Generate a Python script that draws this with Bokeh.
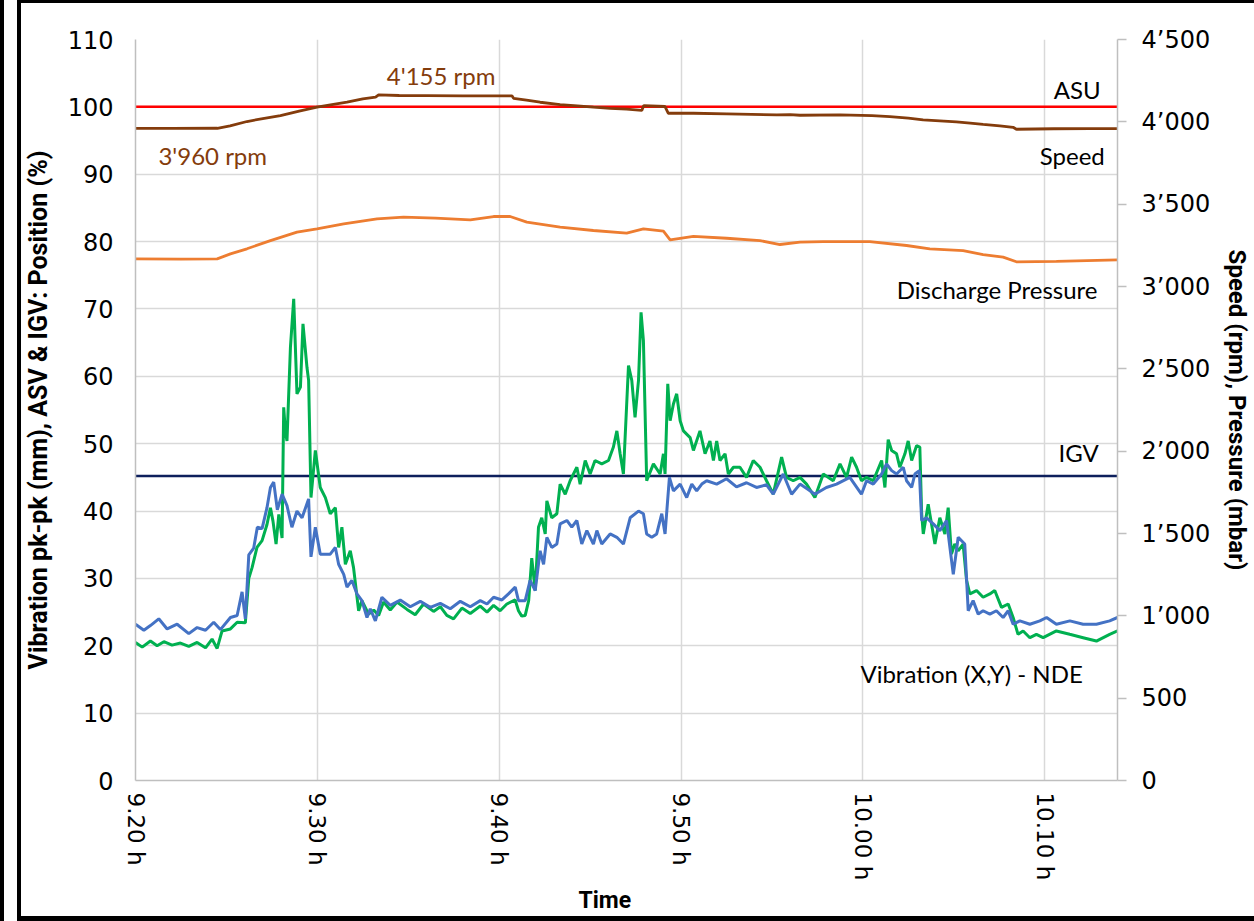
import math
from bokeh.plotting import figure
from bokeh.models import Range1d, LinearAxis, FixedTicker, Label, Title
from bokeh.embed import file_html
from bokeh.resources import INLINE

# ---------------- data ----------------
# time axis: minutes after 9.20 h
x_ticks = [0, 10, 20, 30, 40, 50]
x_tick_labels = ["9.20 h", "9.30 h", "9.40 h", "9.50 h", "10.00 h", "10.10 h"]
left_ticks = [0, 10, 20, 30, 40, 50, 60, 70, 80, 90, 100, 110]
right_ticks = [0, 500, 1000, 1500, 2000, 2500, 3000, 3500, 4000, 4500]
right_tick_labels = ["0", "500", "1\u2019000", "1\u2019500", "2\u2019000", "2\u2019500",
                     "3\u2019000", "3\u2019500", "4\u2019000", "4\u2019500"]

# vibration, blue trace (mm pk-pk): (minute, value)
vib_blue = [(0.0, 23.2), (0.46, 22.3), (0.82, 23.0), (1.28, 24.0), (1.74, 22.5), (2.29, 23.2),
            (2.93, 21.8), (3.39, 22.7), (3.85, 22.3), (4.30, 23.5), (4.67, 22.4), (5.22, 24.2),
            (5.59, 24.5), (5.86, 28.0), (6.04, 24.0), (6.23, 33.5), (6.50, 34.5), (6.70, 37.6),
            (6.96, 37.4), (7.23, 40.5), (7.42, 43.5), (7.60, 44.3), (7.80, 40.2), (8.06, 42.5),
            (8.33, 40.8), (8.60, 37.6), (8.88, 40.0), (9.16, 39.0), (9.52, 41.8), (9.65, 33.2),
            (9.89, 37.6), (10.16, 33.6), (10.71, 33.6), (10.99, 34.6), (11.17, 32.1), (11.45, 30.6),
            (11.63, 28.7), (11.90, 29.7), (12.18, 27.7), (12.45, 26.7), (12.73, 24.2), (12.91, 25.5),
            (13.19, 23.7), (13.55, 27.2), (14.01, 26.0), (14.56, 26.8), (15.11, 25.8), (15.66, 26.6),
            (16.21, 25.7), (16.76, 26.3), (17.31, 25.5), (17.86, 26.6), (18.41, 25.8), (18.96, 26.7),
            (19.33, 26.2), (19.69, 27.2), (20.15, 26.8), (20.51, 27.7), (20.88, 28.7), (21.06, 26.7),
            (21.43, 26.7), (21.70, 29.7), (21.98, 28.2), (22.25, 34.1), (22.44, 32.1), (22.62, 36.1),
            (22.89, 34.6), (23.17, 35.1), (23.35, 38.1), (23.72, 38.6), (23.99, 37.6), (24.27, 38.6),
            (24.54, 35.1), (24.82, 37.1), (25.18, 35.1), (25.37, 37.1), (25.64, 35.1), (26.10, 36.6),
            (26.47, 36.1), (26.83, 35.1), (27.20, 39.0), (27.66, 40.0), (27.93, 39.6), (28.11, 36.6),
            (28.39, 36.1), (28.66, 36.6), (28.94, 39.6), (29.12, 36.6), (29.36, 45.0), (29.58, 43.0),
            (29.95, 44.0), (30.31, 42.0), (30.59, 44.0), (30.86, 43.0), (31.14, 44.0), (31.41, 44.5),
            (31.96, 44.0), (32.50, 44.8), (33.05, 43.6), (33.60, 44.2), (34.15, 43.5), (34.70, 43.9),
            (35.07, 42.5), (35.62, 45.5), (36.08, 42.5), (36.54, 44.0), (36.99, 43.2), (37.36, 42.5),
            (37.99, 43.5), (38.55, 44.0), (39.28, 45.0), (39.92, 42.5), (40.20, 44.5), (40.57, 44.0),
            (41.03, 45.5), (41.30, 47.0), (41.58, 46.0), (41.85, 45.5), (42.22, 46.5), (42.40, 44.5),
            (42.68, 43.5), (42.86, 45.5), (43.10, 46.0), (43.23, 38.6), (43.50, 39.0), (43.87, 38.1),
            (44.23, 37.1), (44.60, 38.6), (44.97, 30.6), (45.24, 36.1), (45.60, 35.1), (45.79, 25.2),
            (46.06, 26.7), (46.34, 24.7), (46.61, 25.2), (46.98, 24.7), (47.34, 25.2), (47.71, 24.2),
            (47.99, 25.2), (48.26, 23.2), (48.63, 23.7), (49.18, 23.2), (49.73, 23.7), (50.10, 24.2),
            (50.64, 23.2), (51.38, 23.7), (52.11, 23.2), (52.84, 23.2), (53.57, 23.7), (54.0, 24.2)]

# vibration, green trace (mm pk-pk): (minute, value)
vib_green = [(0.0, 20.5), (0.37, 19.8), (0.82, 20.7), (1.19, 20.0), (1.56, 20.6), (2.01, 20.1),
             (2.47, 20.4), (2.93, 19.9), (3.39, 20.5), (3.85, 19.7), (4.21, 21.0), (4.49, 19.6),
             (4.76, 22.2), (5.22, 22.5), (5.59, 23.5), (6.04, 23.4), (6.23, 30.0), (6.41, 31.6),
             (6.68, 34.6), (6.96, 35.6), (7.23, 38.0), (7.42, 40.5), (7.56, 38.5), (7.73, 35.1),
             (7.88, 39.5), (8.06, 36.0), (8.15, 55.4), (8.24, 51.9), (8.33, 50.4), (8.52, 64.3),
             (8.70, 71.5), (8.88, 57.4), (9.07, 58.4), (9.21, 67.8), (9.43, 61.3), (9.52, 59.4),
             (9.65, 42.0), (9.89, 49.0), (10.16, 43.5), (10.44, 42.0), (10.71, 39.6), (10.99, 40.5),
             (11.17, 34.6), (11.35, 37.6), (11.54, 32.1), (11.81, 34.1), (11.99, 31.6), (12.27, 25.2),
             (12.45, 26.7), (12.82, 24.7), (13.10, 25.3), (13.37, 24.5), (13.64, 26.5), (14.01, 25.3),
             (14.38, 26.5), (14.93, 25.4), (15.38, 24.6), (15.84, 26.2), (16.39, 25.1), (16.76, 25.8),
             (17.12, 24.5), (17.49, 24.0), (17.95, 25.6), (18.41, 24.8), (18.96, 25.9), (19.33, 25.0),
             (19.69, 26.0), (20.05, 25.2), (20.42, 26.2), (20.88, 26.8), (21.06, 25.2), (21.24, 24.4),
             (21.43, 24.5), (21.62, 26.7), (21.79, 33.0), (21.98, 28.2), (22.16, 37.6), (22.34, 39.0),
             (22.53, 36.6), (22.62, 41.5), (22.89, 39.0), (23.17, 39.6), (23.35, 44.0), (23.63, 42.5),
             (23.90, 44.5), (24.27, 46.5), (24.45, 44.0), (24.73, 47.5), (25.00, 45.5), (25.27, 47.5),
             (25.64, 47.0), (26.01, 47.5), (26.28, 49.5), (26.47, 51.9), (26.65, 48.5), (26.83, 45.5),
             (27.11, 61.6), (27.29, 59.4), (27.47, 53.9), (27.66, 59.4), (27.80, 69.5), (27.93, 65.3),
             (28.11, 44.5), (28.48, 47.0), (28.85, 45.5), (29.03, 48.5), (29.12, 45.5), (29.27, 58.9),
             (29.40, 53.4), (29.58, 55.9), (29.76, 57.4), (29.95, 53.4), (30.13, 51.9), (30.50, 50.9),
             (30.68, 49.0), (31.04, 51.9), (31.32, 48.5), (31.59, 50.4), (31.78, 47.5), (31.96, 50.4),
             (32.14, 47.5), (32.42, 48.5), (32.60, 45.5), (32.88, 46.5), (33.24, 46.5), (33.60, 45.0),
             (33.97, 47.5), (34.34, 46.5), (34.70, 44.5), (35.07, 42.5), (35.53, 48.0), (35.80, 45.0),
             (36.17, 44.5), (36.54, 45.0), (36.90, 44.0), (37.36, 42.0), (37.82, 45.5), (38.37, 44.5),
             (38.74, 47.0), (39.10, 45.0), (39.38, 48.0), (39.65, 46.5), (39.92, 44.5), (40.20, 45.0),
             (40.57, 44.5), (41.03, 47.5), (41.21, 43.5), (41.39, 50.6), (41.58, 49.0), (41.85, 48.5),
             (42.03, 46.5), (42.31, 48.5), (42.49, 50.4), (42.68, 47.5), (42.95, 49.7), (43.13, 49.5),
             (43.23, 39.6), (43.32, 36.6), (43.59, 41.0), (43.96, 35.1), (44.23, 39.0), (44.51, 36.6),
             (44.69, 40.5), (44.87, 33.6), (45.05, 35.1), (45.24, 34.1), (45.51, 35.1), (45.70, 29.7),
             (45.88, 27.7), (46.25, 28.2), (46.61, 27.2), (46.98, 27.7), (47.25, 28.2), (47.62, 25.7),
             (47.99, 26.2), (48.26, 24.2), (48.53, 21.7), (48.81, 22.2), (49.18, 21.2), (49.54, 21.7),
             (49.91, 21.2), (50.64, 22.2), (51.37, 21.7), (52.11, 21.2), (52.84, 20.7), (53.57, 21.7),
             (54.0, 22.2)]

# compressor speed (rpm): (minute, value)
speed_rpm = [(0.0, 3960), (2.0, 3960), (4.5, 3961), (5.2, 3975), (6.13, 4002), (7.0, 4020),
             (7.97, 4038), (9.0, 4065), (9.98, 4089), (10.8, 4105), (11.63, 4119), (12.5, 4140),
             (13.2, 4150), (13.37, 4164), (14.5, 4160), (16.0, 4159), (18.0, 4158), (20.7, 4158),
             (20.79, 4143), (21.5, 4132), (22.25, 4119), (23.35, 4105), (24.3, 4097), (25.18, 4089),
             (26.1, 4082), (27.01, 4077), (27.84, 4069), (27.95, 4099), (29.12, 4093), (29.3, 4052),
             (30.68, 4052), (32.51, 4048), (35.26, 4042), (36.0, 4044), (36.54, 4040), (38.74, 4042),
             (40.5, 4038), (41.48, 4032), (42.5, 4022), (43.31, 4012), (45.14, 4000), (45.9, 3992),
             (46.61, 3984), (47.53, 3976), (48.26, 3967), (48.44, 3955), (50.5, 3958), (52.5, 3959),
             (54.0, 3959)]

# discharge pressure (mbar): (minute, value)
pressure_mbar = [(0.0, 3168), (2.5, 3166), (4.49, 3168), (5.22, 3198), (6.13, 3229), (7.42, 3279),
                 (8.88, 3330), (9.98, 3350), (11.45, 3380), (13.28, 3411), (14.74, 3421), (16.5, 3415),
                 (18.41, 3405), (19.69, 3425), (20.6, 3425), (21.52, 3391), (23.35, 3360), (25.18, 3340),
                 (27.01, 3324), (27.93, 3350), (29.03, 3336), (29.4, 3283), (30.68, 3304), (32.51, 3293),
                 (34.34, 3279), (35.44, 3255), (36.54, 3269), (37.82, 3273), (40.38, 3273), (42.4, 3249),
                 (43.68, 3229), (45.51, 3218), (46.61, 3194), (47.71, 3178), (48.44, 3150), (50.64, 3153),
                 (54.0, 3162)]

# valve positions (%)
igv_position = [(0.0, 45.2), (54.0, 45.2)]
asu_position = [(0.0, 100.0), (54.0, 100.0)]

# ---------------- figure ----------------
TICK_FONT = "DejaVu Sans"
TITLE_FONT = "Roboto"
NOTE_FONT = "Lato"

p = figure(width=1254, height=921, x_range=Range1d(0, 54), y_range=Range1d(0, 110),
           output_backend="svg", toolbar_location=None,
           min_border_left=135, min_border_right=136, min_border_top=39, min_border_bottom=141)
p.extra_y_ranges = {"right": Range1d(0, 4500)}
p.outline_line_color = None
p.background_fill_color = "white"
p.border_fill_alpha = 0
# outer black frame of the picture (drawn behind the transparent canvas border)
p.styles = {
    "background": ("linear-gradient(#000,#000) 17px 0 / 100% 3px no-repeat, "
                   "linear-gradient(#000,#000) 17px 100% / 100% 5px no-repeat, "
                   "linear-gradient(#000,#000) 0 0 / 4px 100% no-repeat, "
                   "linear-gradient(#000,#000) 17px 0 / 4px 100% no-repeat, #fff"),
}

# axes
xa = p.xaxis[0]
xa.ticker = FixedTicker(ticks=x_ticks)
xa.major_label_overrides = {t: l for t, l in zip(x_ticks, x_tick_labels)}
xa.major_label_orientation = -math.pi / 2
xa.major_label_text_font = TICK_FONT
xa.major_label_text_font_size = "23px"
xa.major_label_text_color = "black"
xa.major_label_standoff = 12
xa.major_tick_out = 0
xa.major_tick_in = 0
xa.minor_tick_out = 0
xa.minor_tick_in = 0
xa.axis_line_color = "#bfbfbf"
xa.axis_line_width = 1.5

ya = p.yaxis[0]
ya.ticker = FixedTicker(ticks=left_ticks)
ya.major_label_text_font = TICK_FONT
ya.major_label_text_font_size = "24px"
ya.major_label_text_color = "black"
ya.major_label_standoff = 22
ya.major_tick_out = 0
ya.major_tick_in = 0
ya.minor_tick_out = 0
ya.minor_tick_in = 0
ya.axis_line_color = "#bfbfbf"
ya.axis_line_width = 1.5
ya.axis_label = "Vibration pk-pk (mm), ASV & IGV: Position (%)"
ya.axis_label_text_font = TITLE_FONT
ya.axis_label_text_font_style = "bold"
ya.axis_label_text_font_size = "25px"
ya.axis_label_text_color = "black"
ya.axis_label_standoff = 12

ra = LinearAxis(y_range_name="right", ticker=FixedTicker(ticks=right_ticks))
ra.major_label_overrides = {t: l for t, l in zip(right_ticks, right_tick_labels)}
ra.major_label_text_font = TICK_FONT
ra.major_label_text_font_size = "24px"
ra.major_label_text_color = "black"
ra.major_label_standoff = 15
ra.major_tick_out = 9
ra.major_tick_in = 0
ra.major_tick_line_color = "#bfbfbf"
ra.major_tick_line_width = 1.5
ra.minor_tick_out = 0
ra.minor_tick_in = 0
ra.axis_line_color = "#bfbfbf"
ra.axis_line_width = 1.5
ra.axis_label = "Speed (rpm), Pressure (mbar)"
ra.axis_label_text_font = TITLE_FONT
ra.axis_label_text_font_style = "bold"
ra.axis_label_text_font_size = "24px"
ra.axis_label_text_color = "black"
ra.axis_label_standoff = 10
p.add_layout(ra, "right")

p.add_layout(Title(text="Time", align="left", offset=443, standoff=2,
                   text_font=TITLE_FONT, text_font_style="bold", text_font_size="23px",
                   text_color="black"), "below")

# grid
p.xgrid.ticker = FixedTicker(ticks=x_ticks)
p.ygrid.ticker = FixedTicker(ticks=left_ticks)
p.xgrid.grid_line_color = "#d9d9d9"
p.ygrid.grid_line_color = "#d9d9d9"
p.xgrid.grid_line_width = 1.5
p.ygrid.grid_line_width = 1.5


def xs(series):
    return [a for a, _ in series]


def ys(series):
    return [b for _, b in series]


# series
p.line(xs(asu_position), ys(asu_position), line_color="#ff0000", line_width=2.5)
p.line(xs(igv_position), ys(igv_position), line_color="#0d1f5c", line_width=2.5)
p.line(xs(pressure_mbar), ys(pressure_mbar), y_range_name="right", line_color="#ed7d31", line_width=2.8)
p.line(xs(speed_rpm), ys(speed_rpm), y_range_name="right", line_color="#843c0c", line_width=2.8)
p.line(xs(vib_green), ys(vib_green), line_color="#00b050", line_width=3)
p.line(xs(vib_blue), ys(vib_blue), line_color="#4472c4", line_width=3)


# annotations (data coordinates of the left axis)
def note(text, x, y, align, color="black"):
    p.add_layout(Label(x=x, y=y, text=text, text_align=align, text_baseline="middle",
                       text_font=NOTE_FONT, text_font_size="24px", text_color=color))


note("4'155 rpm", 16.81, 104.7, "center", "#843c0c")
note("3'960 rpm", 1.26, 92.8, "left", "#843c0c")
note("ASU", 53.08, 102.6, "right")
note("Speed", 53.3, 92.8, "right")
note("Discharge Pressure", 52.9, 72.9, "right")
note("IGV", 52.97, 48.7, "right")
note("Vibration (X,Y) - NDE", 52.09, 15.9, "right")

open("out.html", "w").write(file_html(p, INLINE))
